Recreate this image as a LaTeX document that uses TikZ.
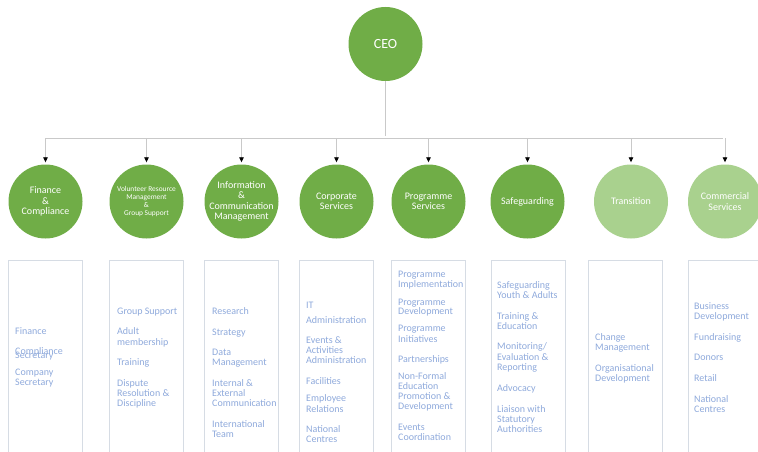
\documentclass[tikz,border=0pt]{standalone}
\usepackage{fontspec}
\setmainfont{Carlito}
\usepackage{tikz}
\usetikzlibrary{positioning}
\usetikzlibrary{arrows.meta}
\usepackage{xcolor}
\definecolor{deptgreen}{HTML}{70AD47}
\definecolor{deptlight}{HTML}{A9D18E}
\definecolor{itemblue}{HTML}{8EA9DB}
\definecolor{boxline}{HTML}{D6DCE4}
\definecolor{linkgray}{HTML}{C9C9C9}

\tikzset{
  dept/.style={circle,fill=deptgreen,minimum size=74pt,inner sep=0pt},
  lightdept/.style={dept,fill=deptlight},
  deptname/.style={text=white,align=center,inner sep=0pt,font=\fontsize{10}{10.2}\selectfont},
  smallname/.style={deptname,font=\fontsize{7.4}{7.7}\selectfont},
  listbox/.style={draw=boxline,line width=0.8pt,minimum width=74pt,minimum height=210pt,anchor=north},
  item/.style={anchor=base west,inner sep=0pt,text=itemblue,font=\fontsize{10}{11}\selectfont},
  link/.style={draw=linkgray,line width=0.8pt},
  >={Triangle[color=black,width=4.5pt,length=5pt]}
}

\begin{document}
\begin{tikzpicture}[x=1pt,y=-1pt,shorten >=2pt]
   \clip (0,0) rectangle (758,452);

   % top of the tree
   \node[dept] (ceo) at (385.5,44) {};
   \node[deptname,font=\fontsize{14}{14}\selectfont] (ceo-name) at (ceo) {CEO};
   \coordinate (hub) at (385.5,138);

   % departments
   \node[dept,label={[deptname]center:Finance\\\&\\Compliance}] (fin) at (45.5,201.5) {};
   \node[dept,label={[smallname]center:Volunteer Resource\\Management\\\&\\Group Support}] (vol) at (146.5,201.5) {};
   \node[dept,label={[deptname]center:Information\\\&\\Communication\\Management}] (info) at (241.5,201.5) {};
   \node[dept,label={[deptname]center:Corporate\\Services}] (corp) at (336.5,201.5) {};
   \node[dept,label={[deptname]center:Programme\\Services}] (prog) at (428.5,201.5) {};
   \node[dept,label={[deptname]center:Safeguarding}] (safe) at (527.5,201.5) {};
   \node[lightdept,label={[deptname]center:Transition}] (trans) at (631,201.5) {};
   \node[lightdept,label={[deptname]center:Commercial\\Services}] (com) at (725,201.5) {};

   % connectors
   \draw[link] (ceo) -- (hub);
   \draw[link] (fin |- hub) -- (com |- hub);
   \foreach \d in {fin,vol,info,corp,prog,safe,trans,com}
      \draw[link,->] (\d |- hub) -- (\d);

   % boxes under each department
   \node[listbox] (fin-box)   at (45,260) {};
   \node[listbox] (vol-box)   at (146.5,260) {};
   \node[listbox] (info-box)  at (241.5,260) {};
   \node[listbox] (corp-box)  at (336.5,260) {};
   \node[listbox] (prog-box)  at (428.5,260) {};
   \node[listbox] (safe-box)  at (528,260) {};
   \node[listbox] (trans-box) at (625,260) {};
   \node[listbox] (com-box)   at (725,260) {};

   % box contents, one line at a time
   \foreach \y/\t [count=\i] in {334/Finance,354.5/Compliance,358/Secretary,375.5/Company,385.5/Secretary}
      \node[item] (fin-\i) at (15,\y) {\t};
   \foreach \y/\t [count=\i] in {314/Group Support,334/Adult,345.5/membership,365.5/Training,
         386/Dispute,396/Resolution \&,406/Discipline}
      \node[item] (vol-\i) at (117,\y) {\t};
   \foreach \y/\t [count=\i] in {314/Research,335/Strategy,355/Data,365.5/Management,386/Internal \&,
         396/External,406.5/Communication,427/International,437.5/Team}
      \node[item] (info-\i) at (212,\y) {\t};
   \foreach \y/\t [count=\i] in {308/IT,323/Administration,343/Events \&,353/Activities,363.5/Administration,
         384/Facilities,401.5/Employee,412/Relations,432/National,442.5/Centres}
      \node[item] (corp-\i) at (306,\y) {\t};
   \foreach \y/\t [count=\i] in {277/Programme,287/Implementation,305/Programme,314/Development,
         331/Programme,342.5/Initiatives,362.5/Partnerships,379/Non-Formal,389.5/Education,
         399/Promotion \&,409/Development,430/Events,440/Coordination}
      \node[item] (prog-\i) at (398,\y) {\t};
   \foreach \y/\t [count=\i] in {288.5/Safeguarding,298.5/Youth \& Adults,319/Training \&,329/Education,
         349/{Monitoring/},360/Evaluation \&,370.5/Reporting,391/Advocacy,412/Liaison with,
         422/Statutory,432/Authorities}
      \node[item] (safe-\i) at (497,\y) {\t};
   \foreach \y/\t [count=\i] in {340/Change,350/Management,371/Organisational,381/Development}
      \node[item] (trans-\i) at (595,\y) {\t};
   \foreach \y/\t [count=\i] in {309/Business,319.5/Development,340/Fundraising,360.5/Donors,
         381/Retail,402/National,412/Centres}
      \node[item] (com-\i) at (694,\y) {\t};
\end{tikzpicture}
\end{document}
